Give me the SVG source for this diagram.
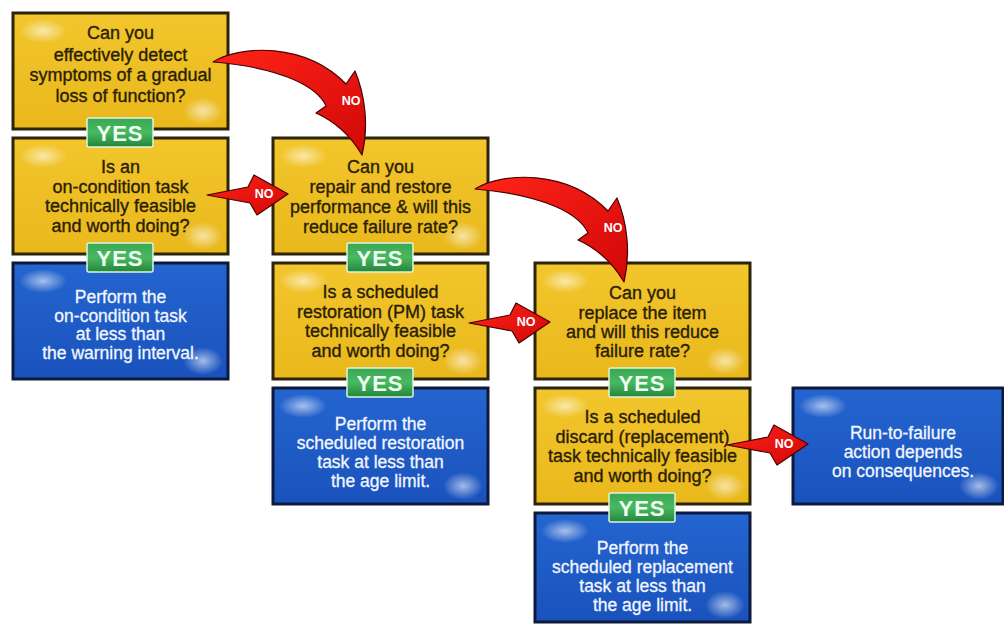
<svg xmlns="http://www.w3.org/2000/svg" width="1004" height="628" viewBox="0 0 1004 628">
  <defs>
    <linearGradient id="gYellow" x1="0" y1="0" x2="0" y2="1">
      <stop offset="0" stop-color="#f2c62c"/>
      <stop offset="1" stop-color="#e9b81c"/>
    </linearGradient>
    <linearGradient id="gBlue" x1="0" y1="0" x2="0" y2="1">
      <stop offset="0" stop-color="#2465cf"/>
      <stop offset="1" stop-color="#1a52bd"/>
    </linearGradient>
    <radialGradient id="gGlow">
      <stop offset="0" stop-color="#ffffff" stop-opacity="0.6"/>
      <stop offset="1" stop-color="#ffffff" stop-opacity="0"/>
    </radialGradient>
    <linearGradient id="gGreen" x1="0" y1="0" x2="0" y2="1">
      <stop offset="0" stop-color="#3aa853"/>
      <stop offset="0.5" stop-color="#49b862"/>
      <stop offset="1" stop-color="#23853a"/>
    </linearGradient>
    <linearGradient id="gRed" x1="0" y1="0" x2="1" y2="1">
      <stop offset="0" stop-color="#ff2418"/>
      <stop offset="1" stop-color="#d10808"/>
    </linearGradient>
    <!-- curved "NO" swoosh, drawn for the first column and reused -->
    <path id="swoosh" d="M213,62 C240,45 305,42 346,84 L355,71 C365,95 369,125 362,155 C352,138 336,122 316,113 L326,106 C318,88 285,68 213,62 Z"/>
    <!-- straight "NO" arrow -->
    <path id="dart" d="M207,195 L248,187 L254,175 L288,194 L257,215 L250,203 Z"/>
  </defs>
  <style>
    .ask rect.box { fill: url(#gYellow); stroke: #2b2408; stroke-width: 3; }
    .act rect.box { fill: url(#gBlue); stroke: #0d1a3c; stroke-width: 3; }
    .glow { fill: url(#gGlow); }
    .ask text { font-family: "Liberation Sans", Arial, sans-serif; font-size: 18px; fill: #2a2004; stroke: #2a2004; stroke-width: 0.35; text-anchor: middle; }
    .act text { font-family: "Liberation Sans", Arial, sans-serif; font-size: 17.5px; fill: #f2f6ff; stroke: #f2f6ff; stroke-width: 0.3; text-anchor: middle; }
    .arrow { fill: url(#gRed); stroke: #4a0000; stroke-width: 1.2; stroke-linejoin: round; }
    .no { font-family: "Liberation Sans", Arial, sans-serif; font-size: 12.5px; font-weight: bold; fill: #ffffff; text-anchor: middle; }
    .yes rect { fill: url(#gGreen); stroke: #dff3df; stroke-width: 1.5; }
    .yes text { font-family: "Liberation Sans", Arial, sans-serif; font-size: 22px; font-weight: bold; fill: #effff0; letter-spacing: 1px; text-anchor: middle; }
  </style>

  <rect width="1004" height="628" fill="#ffffff"/>

  <!-- column 1 -->
  <g id="detect-symptoms" class="ask" transform="translate(13,13)">
    <rect class="box" width="215" height="116"/>
    <ellipse class="glow" cx="30" cy="18" rx="24" ry="12"/>
    <ellipse class="glow" cx="190" cy="98" rx="20" ry="14"/>
    <text x="107.5" y="26">Can you</text>
    <text x="107.5" y="47.5">effectively detect</text>
    <text x="107.5" y="68">symptoms of a gradual</text>
    <text x="107.5" y="88.5">loss of function?</text>
  </g>
  <g id="on-condition-feasible" class="ask" transform="translate(13,138)">
    <rect class="box" width="215" height="116"/>
    <ellipse class="glow" cx="30" cy="18" rx="24" ry="12"/>
    <ellipse class="glow" cx="190" cy="98" rx="20" ry="14"/>
    <text x="107.5" y="35">Is an</text>
    <text x="107.5" y="54.5">on-condition task</text>
    <text x="107.5" y="74">technically feasible</text>
    <text x="107.5" y="93.5">and worth doing?</text>
  </g>
  <g id="on-condition-task" class="act" transform="translate(13,263)">
    <rect class="box" width="215" height="116"/>
    <ellipse class="glow" cx="30" cy="18" rx="24" ry="12"/>
    <ellipse class="glow" cx="190" cy="98" rx="20" ry="14"/>
    <text x="107.5" y="40">Perform the</text>
    <text x="107.5" y="58.5">on-condition task</text>
    <text x="107.5" y="77">at less than</text>
    <text x="107.5" y="95.5">the warning interval.</text>
  </g>

  <!-- column 2 -->
  <g id="repair-restore" class="ask" transform="translate(273,138)">
    <rect class="box" width="215" height="116"/>
    <ellipse class="glow" cx="30" cy="18" rx="24" ry="12"/>
    <ellipse class="glow" cx="190" cy="98" rx="20" ry="14"/>
    <text x="107.5" y="35">Can you</text>
    <text x="107.5" y="55">repair and restore</text>
    <text x="107.5" y="75">performance &amp; will this</text>
    <text x="107.5" y="95">reduce failure rate?</text>
  </g>
  <g id="restoration-feasible" class="ask" transform="translate(273,263)">
    <rect class="box" width="215" height="116"/>
    <ellipse class="glow" cx="30" cy="18" rx="24" ry="12"/>
    <ellipse class="glow" cx="190" cy="98" rx="20" ry="14"/>
    <text x="107.5" y="35">Is a scheduled</text>
    <text x="107.5" y="54.5">restoration (PM) task</text>
    <text x="107.5" y="74">technically feasible</text>
    <text x="107.5" y="93.5">and worth doing?</text>
  </g>
  <g id="restoration-task" class="act" transform="translate(273,388)">
    <rect class="box" width="215" height="116"/>
    <ellipse class="glow" cx="30" cy="18" rx="24" ry="12"/>
    <ellipse class="glow" cx="190" cy="98" rx="20" ry="14"/>
    <text x="107.5" y="42">Perform the</text>
    <text x="107.5" y="61">scheduled restoration</text>
    <text x="107.5" y="80">task at less than</text>
    <text x="107.5" y="99">the age limit.</text>
  </g>

  <!-- column 3 -->
  <g id="replace-item" class="ask" transform="translate(535,263)">
    <rect class="box" width="215" height="116"/>
    <ellipse class="glow" cx="30" cy="18" rx="24" ry="12"/>
    <ellipse class="glow" cx="190" cy="98" rx="20" ry="14"/>
    <text x="107.5" y="36">Can you</text>
    <text x="107.5" y="55.5">replace the item</text>
    <text x="107.5" y="75">and will this reduce</text>
    <text x="107.5" y="94">failure rate?</text>
  </g>
  <g id="discard-feasible" class="ask" transform="translate(535,388)">
    <rect class="box" width="215" height="116"/>
    <ellipse class="glow" cx="30" cy="18" rx="24" ry="12"/>
    <ellipse class="glow" cx="190" cy="98" rx="20" ry="14"/>
    <text x="107.5" y="35">Is a scheduled</text>
    <text x="107.5" y="54.5">discard (replacement)</text>
    <text x="107.5" y="74">task technically feasible</text>
    <text x="107.5" y="93.5">and worth doing?</text>
  </g>
  <g id="replacement-task" class="act" transform="translate(535,513)">
    <rect class="box" width="215" height="109"/>
    <ellipse class="glow" cx="30" cy="18" rx="24" ry="12"/>
    <ellipse class="glow" cx="190" cy="92" rx="20" ry="14"/>
    <text x="107.5" y="41">Perform the</text>
    <text x="107.5" y="60">scheduled replacement</text>
    <text x="107.5" y="79">task at less than</text>
    <text x="107.5" y="98">the age limit.</text>
  </g>

  <!-- column 4 -->
  <g id="run-to-failure" class="act" transform="translate(793,388)">
    <rect class="box" width="210" height="116"/>
    <ellipse class="glow" cx="30" cy="18" rx="24" ry="12"/>
    <ellipse class="glow" cx="186" cy="98" rx="20" ry="14"/>
    <text x="110" y="51">Run-to-failure</text>
    <text x="110" y="70">action depends</text>
    <text x="110" y="88.5">on consequences.</text>
  </g>

  <!-- connectors: red NO arrows and green YES tabs -->
  <g id="connectors">
    <g id="no-detect">
      <use href="#swoosh" class="arrow"/>
      <text class="no" x="351" y="105">NO</text>
    </g>
    <g id="no-repair" transform="translate(262,127)">
      <use href="#swoosh" class="arrow"/>
      <text class="no" x="351" y="105">NO</text>
    </g>
    <g id="no-on-condition">
      <use href="#dart" class="arrow"/>
      <text class="no" x="264" y="198">NO</text>
    </g>
    <g id="no-restoration" transform="translate(262,128)">
      <use href="#dart" class="arrow"/>
      <text class="no" x="264" y="198">NO</text>
    </g>
    <g id="no-discard" transform="translate(520,250)">
      <use href="#dart" class="arrow"/>
      <text class="no" x="264" y="198">NO</text>
    </g>

    <g class="yes" transform="translate(87,118)"><rect width="66" height="29" rx="2"/><text x="33" y="23">YES</text></g>
    <g class="yes" transform="translate(87,243)"><rect width="66" height="29" rx="2"/><text x="33" y="23">YES</text></g>
    <g class="yes" transform="translate(347,243)"><rect width="66" height="29" rx="2"/><text x="33" y="23">YES</text></g>
    <g class="yes" transform="translate(347,368)"><rect width="66" height="29" rx="2"/><text x="33" y="23">YES</text></g>
    <g class="yes" transform="translate(609,368)"><rect width="66" height="29" rx="2"/><text x="33" y="23">YES</text></g>
    <g class="yes" transform="translate(609,493)"><rect width="66" height="29" rx="2"/><text x="33" y="23">YES</text></g>
  </g>
</svg>
